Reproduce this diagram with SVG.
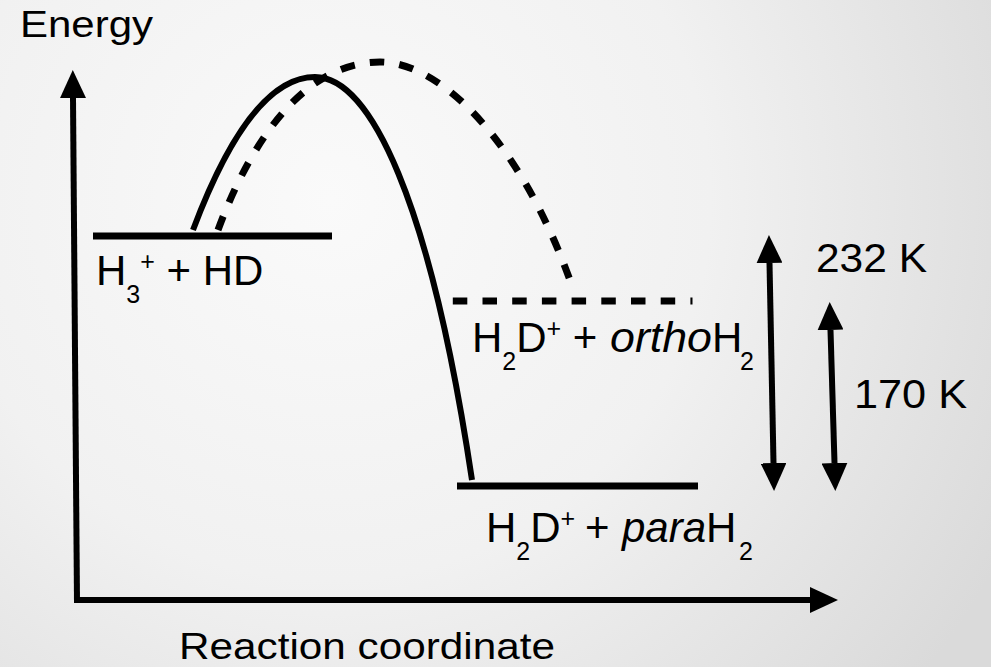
<svg xmlns="http://www.w3.org/2000/svg" width="991" height="667" viewBox="0 0 991 667">
<defs>
<radialGradient id="bg" gradientUnits="userSpaceOnUse" cx="330" cy="200" r="760">
<stop offset="0" stop-color="#fafafa"/>
<stop offset="0.5" stop-color="#f1f1f1"/>
<stop offset="1" stop-color="#dadada"/>
</radialGradient>
<marker id="ah" viewBox="0 0 28 26" markerWidth="28" markerHeight="26" refX="0" refY="13" markerUnits="userSpaceOnUse" orient="auto-start-reverse">
<path d="M0,0 L28,13 L0,26 z" fill="#000"/>
</marker>
</defs>
<style>
.t{font-family:"Liberation Sans",Arial,sans-serif;fill:#000}
.f{font-size:42px}
.ln{stroke:#000;fill:none}
.lvl{stroke:#000;stroke-width:7;fill:none}
.dash{stroke-dasharray:14.5 15.2}
.sub{font-size:25px}
.it{font-style:italic}
</style>
<rect width="991" height="667" fill="url(#bg)"/>

<g id="connectors">
<path id="axis-y" class="ln" stroke-width="6" d="M77,603 L73,98" marker-end="url(#ah)"/>
<path id="axis-x" class="ln" stroke-width="6" d="M74,600 L810,600" marker-end="url(#ah)"/>
<path id="path-para" class="ln" stroke-width="6" d="M193,230 C225,145 265,77 315,77 C370,77 430,200 472,480"/>
<path id="path-ortho" class="ln dash" stroke-width="7" d="M218,230 C255,130 310,62 380,62 C440,62 520,140 571,283"/>
<path id="arrow-232" class="ln" stroke-width="6" d="M769.5,263 L773.5,463" marker-start="url(#ah)" marker-end="url(#ah)"/>
<path id="arrow-170" class="ln" stroke-width="6" d="M830.5,330 L834.5,463" marker-start="url(#ah)" marker-end="url(#ah)"/>
</g>

<g id="label-energy">
<text class="t" x="20" y="37" font-size="36" textLength="133" lengthAdjust="spacingAndGlyphs">Energy</text>
</g>
<g id="label-reaction">
<text class="t" x="179" y="659" font-size="36" textLength="376" lengthAdjust="spacingAndGlyphs">Reaction coordinate</text>
</g>

<g id="level-h3">
<line class="lvl" x1="93" y1="236" x2="332" y2="236"/>
<text class="t f"><tspan x="96" y="285">H</tspan><tspan class="sub" x="126.3" y="303">3</tspan><tspan class="sub" x="140.2" y="270">+</tspan><tspan x="166.5" y="285">+</tspan><tspan x="202.7" y="285">HD</tspan></text>
</g>

<g id="level-ortho">
<line class="lvl dash" x1="452.8" y1="301" x2="692.5" y2="301"/>
<text class="t f"><tspan x="472" y="352">H</tspan><tspan class="sub" x="502.3" y="370">2</tspan><tspan x="516.2" y="352">D</tspan><tspan class="sub" x="546.5" y="337">+</tspan><tspan x="572.8" y="352">+</tspan><tspan class="it" x="610" y="352" textLength="102" lengthAdjust="spacingAndGlyphs">ortho</tspan><tspan x="712" y="352">H</tspan><tspan class="sub" x="740" y="370">2</tspan></text>
</g>

<g id="level-para">
<line class="lvl" x1="457" y1="486" x2="698" y2="486"/>
<text class="t f"><tspan x="486" y="542">H</tspan><tspan class="sub" x="516.3" y="560">2</tspan><tspan x="530.2" y="542">D</tspan><tspan class="sub" x="560.5" y="527">+</tspan><tspan x="585" y="542">+</tspan><tspan class="it" x="622" y="542">para</tspan><tspan x="706" y="542">H</tspan><tspan class="sub" x="739" y="560">2</tspan></text>
</g>

<g id="label-232">
<text class="t" x="816" y="272" font-size="41" textLength="111" lengthAdjust="spacingAndGlyphs">232 K</text>
</g>
<g id="label-170">
<text class="t" x="854" y="408" font-size="41" textLength="113" lengthAdjust="spacingAndGlyphs">170 K</text>
</g>
</svg>
